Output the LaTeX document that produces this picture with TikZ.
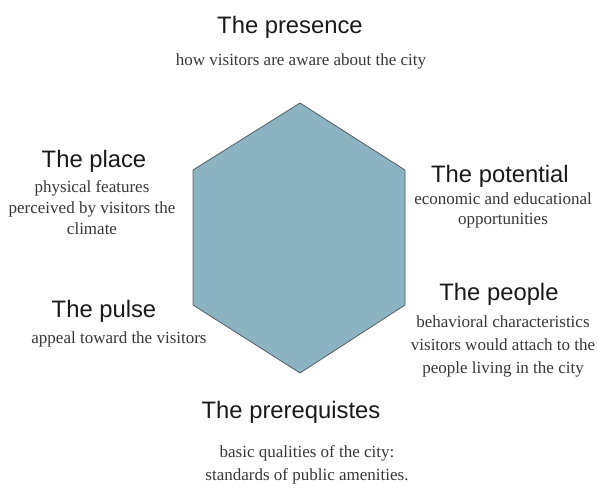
\documentclass[tikz,border=0pt]{standalone}
\usepackage{fontspec}
\setmainfont{Liberation Serif}
\newfontfamily\headfont{Liberation Sans}
\usepackage{xcolor}
\definecolor{hexfill}{RGB}{139,179,194}
\definecolor{hexline}{RGB}{85,95,100}
\definecolor{headtext}{RGB}{25,25,25}
\definecolor{blurbtext}{RGB}{55,55,55}

\begin{document}
\begin{tikzpicture}[x=1pt, y=-1pt,
                    head/.style={anchor=base, inner sep=0pt, text=headtext,
                                 font=\headfont\fontsize{23.8}{28}\selectfont},
                    blurb/.style={anchor=base, inner sep=0pt, align=center, text=blurbtext,
                                  font=\fontsize{17}{22}\selectfont}]
  \useasboundingbox (0,0) rectangle (598,488);
  % the hexagon
  \coordinate (top) at (300,103);
  \coordinate (ur) at (405,170);
  \coordinate (lr) at (405,305);
  \coordinate (bot) at (300,373);
  \coordinate (ll) at (193,305);
  \coordinate (ul) at (193,170);
  \draw[fill=hexfill, draw=hexline, line width=0.8pt, line join=miter]
    (top) -- (ur) -- (lr) -- (bot) -- (ll) -- (ul) -- cycle;
  % top
  \node[head] (presence) at (290,33) {The presence};
  \node[blurb] (presence-text) at (301,65) {how visitors are aware about the city};
  % left side (multi-line blurbs sit on their last line)
  \node[head] (place) at (94,167) {The place};
  \node[blurb, font=\fontsize{17}{21}\selectfont] (place-text) at (92,234)
    {physical features\\ perceived by visitors the\\ climate};
  \node[head] (pulse) at (104,317) {The pulse};
  \node[blurb] (pulse-text) at (119,343) {appeal toward the visitors};
  % right side
  \node[head] (potential) at (500,182) {The potential};
  \node[blurb, font=\fontsize{17}{19.5}\selectfont] (potential-text) at (503,224)
    {economic and educational\\ opportunities};
  \node[head] (people) at (499,300) {The people};
  \node[blurb, font=\fontsize{17}{23}\selectfont] (people-text) at (503,373)
    {behavioral characteristics\\ visitors would attach to the\\ people living in the city};
  % bottom
  \node[head] (prereq) at (291,418) {The prerequistes};
  \node[blurb, font=\fontsize{17}{23}\selectfont] (prereq-text) at (307,480)
    {basic qualities of the city:\\ standards of public amenities.};
\end{tikzpicture}
\end{document}
